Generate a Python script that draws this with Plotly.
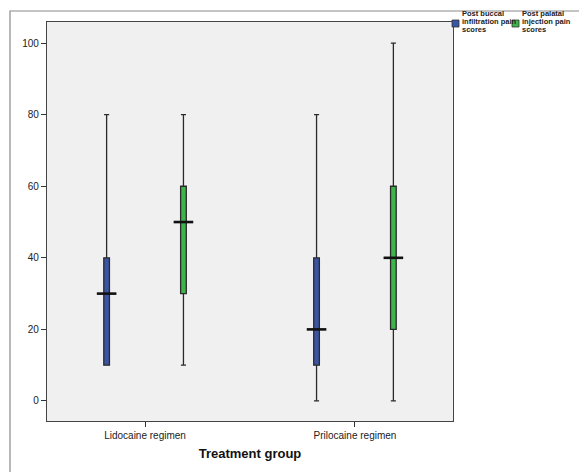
import plotly.graph_objects as go

categories = ["Lidocaine regimen", "Prilocaine regimen"]
series_names = ["Post buccal infiltration pain scores", "Post palatal injection pain scores"]
legend_lines = [["Post buccal", "infiltration pain", "scores"],
                ["Post palatal", "injection pain", "scores"]]

# box statistics per series, per category
buccal_min = [10, 0]
buccal_q1 = [10, 10]
buccal_median = [30, 20]
buccal_q3 = [40, 40]
buccal_max = [80, 80]

palatal_min = [10, 0]
palatal_q1 = [30, 20]
palatal_median = [50, 40]
palatal_q3 = [60, 60]
palatal_max = [80, 100]

y_ticks = [0, 20, 40, 60, 80, 100]

BLUE = "#3b55a5"
GREEN = "#3db54a"

# page has an 8px body margin; size the figure so the plot area lands where the reference has it
W, H = 579, 464
ML, MT = 39, 14
PW, PH = 406, 399
MR = W - ML - PW
MB = H - MT - PH
PLOT_LEFT, PLOT_BOTTOM = 47, 421  # page coordinates

offset = 0.183
box_w = 0.027

series = [
    (series_names[0], BLUE, -offset, buccal_min, buccal_q1, buccal_median, buccal_q3, buccal_max),
    (series_names[1], GREEN, offset, palatal_min, palatal_q1, palatal_median, palatal_q3, palatal_max),
]

fig = go.Figure()
for name, color, off, mn, q1, med, q3, mx in series:
    xs = [i + off for i in range(len(categories))]
    fig.add_trace(go.Box(
        name=name, x=xs, q1=q1, median=med, q3=q3,
        lowerfence=mn, upperfence=mx,
        width=box_w, whiskerwidth=0.9,
        fillcolor=color, line=dict(color="#2a2a2a", width=1.3),
        boxpoints=False, showlegend=False, hoverinfo="skip",
    ))
    fig.add_trace(go.Scatter(
        x=xs, y=med, mode="markers", showlegend=False, hoverinfo="skip",
        marker=dict(symbol="line-ew", size=14, line=dict(color="#111111", width=2.6)),
    ))


def px_to_paper_x(px):
    return (px - PLOT_LEFT) / PW


def px_to_paper_y(py):
    return (PLOT_BOTTOM - py) / PH


legend_x = [452, 512]
legend_colors = [BLUE, GREEN]
for lx, col, lines in zip(legend_x, legend_colors, legend_lines):
    fig.add_shape(type="rect", xref="paper", yref="paper",
                  x0=px_to_paper_x(lx), x1=px_to_paper_x(lx + 7),
                  y0=px_to_paper_y(27), y1=px_to_paper_y(20),
                  fillcolor=col, line=dict(color="#333333", width=0.8))
    for k, line in enumerate(lines):
        fig.add_annotation(text="<b>" + line + "</b>", xref="paper", yref="paper",
                           x=px_to_paper_x(lx + 9), y=px_to_paper_y(19 + 8 * k),
                           xanchor="left", yanchor="bottom", align="left", showarrow=False,
                           borderpad=0,
                           font=dict(family="Liberation Sans, Arial", size=7.5, color="#222222"))

# outer frame
fig.add_shape(type="rect", xref="paper", yref="paper",
              x0=px_to_paper_x(10), x1=px_to_paper_x(620),
              y0=px_to_paper_y(490), y1=px_to_paper_y(11),
              line=dict(color="#8a8a8a", width=1.2), fillcolor="rgba(0,0,0,0)", layer="below")

fig.update_layout(
    width=W, height=H,
    margin=dict(l=ML, r=MR, t=MT, b=MB),
    paper_bgcolor="white", plot_bgcolor="#f0f0f0",
    font=dict(family="Liberation Sans, Arial", size=10, color="#222222"),
    xaxis=dict(
        range=[-0.467, 1.467], tickmode="array",
        tickvals=list(range(len(categories))), ticktext=categories,
        ticks="outside", ticklen=5, tickcolor="#333333",
        showgrid=False, zeroline=False,
        showline=True, mirror=True, linecolor="#444444", linewidth=1.2,
        tickfont=dict(size=10),
        title=dict(text="<b>Treatment group</b>", font=dict(size=13, color="#111111"), standoff=8),
    ),
    yaxis=dict(
        range=[-5.6, 105.9], tickmode="array", tickvals=y_ticks,
        ticks="outside", ticklen=5, tickcolor="#333333",
        showgrid=False, zeroline=False,
        showline=True, mirror=True, linecolor="#444444", linewidth=1.2,
        tickfont=dict(size=10),
    ),
)

fig.write_html("out.html")
